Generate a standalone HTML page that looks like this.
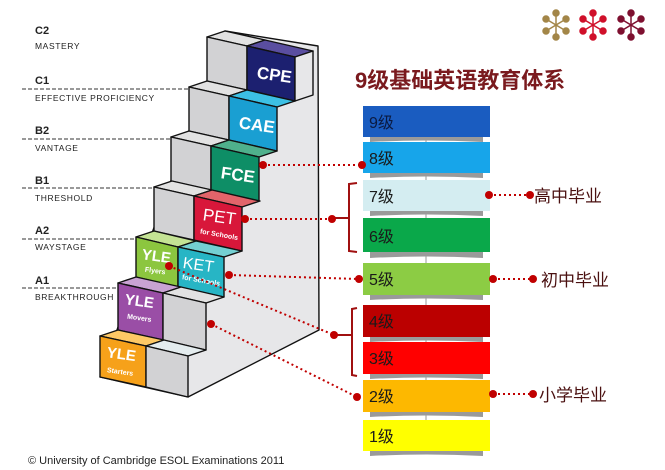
<!DOCTYPE html>
<html><head><meta charset="utf-8"><style>
html,body{margin:0;padding:0;background:#fff;}
svg{display:block}
text{font-family:"Liberation Sans","Noto Sans CJK SC",sans-serif;}
</style></head><body>
<svg width="665" height="470" viewBox="0 0 665 470" xmlns="http://www.w3.org/2000/svg">
<!-- asterisk logos -->
<g stroke-width="1.5">
<g transform="translate(556,25)" stroke="#a38648" fill="#a38648">
<line x1="-10" y1="-6" x2="10" y2="6"/><line x1="-10" y1="6" x2="10" y2="-6"/><line x1="0" y1="-12" x2="0" y2="12"/>
<circle cx="-10" cy="-6" r="3"/><circle cx="10" cy="6" r="3"/><circle cx="-10" cy="6" r="3"/><circle cx="10" cy="-6" r="3"/><circle cx="0" cy="-12" r="3"/><circle cx="0" cy="12" r="3"/></g>
<g transform="translate(593,25)" stroke="#d0102a" fill="#d0102a">
<line x1="-10" y1="-6" x2="10" y2="6"/><line x1="-10" y1="6" x2="10" y2="-6"/><line x1="0" y1="-12" x2="0" y2="12"/>
<circle cx="-10" cy="-6" r="3"/><circle cx="10" cy="6" r="3"/><circle cx="-10" cy="6" r="3"/><circle cx="10" cy="-6" r="3"/><circle cx="0" cy="-12" r="3"/><circle cx="0" cy="12" r="3"/></g>
<g transform="translate(631,25)" stroke="#7e1030" fill="#7e1030">
<line x1="-10" y1="-6" x2="10" y2="6"/><line x1="-10" y1="6" x2="10" y2="-6"/><line x1="0" y1="-12" x2="0" y2="12"/>
<circle cx="-10" cy="-6" r="3"/><circle cx="10" cy="6" r="3"/><circle cx="-10" cy="6" r="3"/><circle cx="10" cy="-6" r="3"/><circle cx="0" cy="-12" r="3"/><circle cx="0" cy="12" r="3"/></g>
</g>

<!-- left labels -->
<g fill="#222">
<text x="35" y="34" font-size="11" font-weight="bold">C2</text>
<text x="35" y="49" font-size="8.5" letter-spacing="0.6">MASTERY</text>
<text x="35" y="84" font-size="11" font-weight="bold">C1</text>
<text x="35" y="101" font-size="8.5" letter-spacing="0.6">EFFECTIVE PROFICIENCY</text>
<text x="35" y="134" font-size="11" font-weight="bold">B2</text>
<text x="35" y="151" font-size="8.5" letter-spacing="0.6">VANTAGE</text>
<text x="35" y="184" font-size="11" font-weight="bold">B1</text>
<text x="35" y="201" font-size="8.5" letter-spacing="0.6">THRESHOLD</text>
<text x="35" y="234" font-size="11" font-weight="bold">A2</text>
<text x="35" y="250" font-size="8.5" letter-spacing="0.6">WAYSTAGE</text>
<text x="35" y="284" font-size="11" font-weight="bold">A1</text>
<text x="35" y="300" font-size="8.5" letter-spacing="0.6">BREAKTHROUGH</text>
</g>
<g stroke="#333" stroke-width="1" stroke-dasharray="4,2">
<line x1="22" y1="89" x2="190" y2="89"/>
<line x1="22" y1="139" x2="172" y2="139"/>
<line x1="22" y1="188" x2="154" y2="188"/>
<line x1="22" y1="239" x2="136" y2="239"/>
<line x1="22" y1="288" x2="118" y2="288"/>
</g>

<!-- staircase body -->
<g stroke="#111" stroke-width="1.4" stroke-linejoin="round">
<path d="M225,31 L318,46 L319,330 L188,397 L100,377 Z" fill="#e7e7e9"/>
<!-- step helper: tread (L,T),(L+88,T+20),(L+106,T+14),(L+18,T-6) -->
<!-- CPE L207 T37 -->
<polygon points="207,37 247,46 265,40 225,31" fill="#e2e2e2"/>
<polygon points="247,46 295,57 313,51 265,40" fill="#5a4ea0"/>
<polygon points="207,37 247,46 247,90 207,81" fill="#d2d2d4"/>
<polygon points="247,46 295,57 295,101 247,90" fill="#1c2070"/>
<polygon points="295,57 313,51 313,95 295,101" fill="#e7e7e9"/>
<!-- CAE L189 T87 -->
<polygon points="189,87 229,96 247,90 207,81" fill="#e2e2e2"/>
<polygon points="229,96 277,107 295,101 247,90" fill="#3cc0e4"/>
<polygon points="189,87 229,96 229,140 189,131" fill="#d2d2d4"/>
<polygon points="229,96 277,107 277,151 229,140" fill="#1a9fd2"/>
<!-- FCE L171 T137 -->
<polygon points="171,137 211,146 229,140 189,131" fill="#e2e2e2"/>
<polygon points="211,146 259,157 277,151 229,140" fill="#4fb08c"/>
<polygon points="171,137 211,146 211,190 171,181" fill="#d2d2d4"/>
<polygon points="211,146 259,157 259,201 211,190" fill="#0e8e66"/>
<!-- PET L154 T187 -->
<polygon points="154,187 194,196 212,190 172,181" fill="#e2e2e2"/>
<polygon points="194,196 242,207 260,201 212,190" fill="#e2646a"/>
<polygon points="154,187 194,196 194,240 154,231" fill="#d2d2d4"/>
<polygon points="194,196 242,207 242,251 194,240" fill="#d8173a"/>
<!-- A2 L136 T237 H40 -->
<polygon points="136,237 178,247 196,241 154,231" fill="#c4e394"/>
<polygon points="178,247 224,257 242,251 196,241" fill="#74d0d2"/>
<polygon points="136,237 178,247 178,287 136,277" fill="#8cc63f"/>
<polygon points="178,247 224,257 224,297 178,287" fill="#27b5c5"/>
<!-- Movers L118 T283 H47 -->
<polygon points="118,283 163,293 181,287 136,277" fill="#c9a3d3"/>
<polygon points="163,293 206,303 224,297 181,287" fill="#e2e2e2"/>
<polygon points="118,283 163,293 163,340 118,330" fill="#9a4ea6"/>
<polygon points="163,293 206,303 206,350 163,340" fill="#d2d2d4"/>
<!-- Starters L100 T336 H41 -->
<polygon points="100,336 146,346 164,340 118,330" fill="#fdc865"/>
<polygon points="146,346 188,356 206,350 164,340" fill="#e4ecee"/>
<polygon points="100,336 146,346 146,387 100,377" fill="#f6a11a"/>
<polygon points="146,346 188,356 188,397 146,387" fill="#d2d2d4"/>
</g>

<!-- step labels -->
<g fill="#fff" font-weight="bold" font-family="Liberation Sans Narrow, Liberation Sans, sans-serif">
<text x="257" y="80" font-size="17" transform="rotate(8 270 74)">CPE</text>
<text x="239" y="130" font-size="17" transform="rotate(8 252 124)">CAE</text>
<text x="221" y="180" font-size="17" transform="rotate(8 234 174)">FCE</text>
<text x="203" y="222" font-size="17" font-weight="normal" transform="rotate(8 216 216)">PET</text>
<text x="200" y="236" font-size="7" transform="rotate(10 215 233)">for Schools</text>
<text x="142" y="261" font-size="15" transform="rotate(8 155 255)">YLE</text>
<text x="145" y="273" font-size="7" transform="rotate(8 155 270)">Flyers</text>
<text x="183" y="270" font-size="16" font-weight="normal" transform="rotate(8 198 264)">KET</text>
<text x="182" y="282" font-size="7" transform="rotate(10 198 279)">for Schools</text>
<text x="125" y="306" font-size="15" transform="rotate(8 138 300)">YLE</text>
<text x="127" y="320" font-size="7" transform="rotate(8 138 318)">Movers</text>
<text x="107" y="359" font-size="15" transform="rotate(8 120 353)">YLE</text>
<text x="107" y="374" font-size="7" transform="rotate(8 120 371)">Starters</text>
</g>

<!-- title -->
<text x="355" y="88" font-size="22" font-weight="bold" fill="#7a1a1e">9级基础英语教育体系</text>

<!-- bars -->
<g>
<line x1="426" y1="106" x2="426" y2="452" stroke="#999" stroke-width="1"/>
<g fill="#9a9a9a">
<path d="M370,137 Q426,134 483,137 L483,142 Q426,139 370,142Z"/>
<path d="M370,173 Q426,170 483,173 L483,178 Q426,175 370,178Z"/>
<path d="M370,211 Q426,208 483,211 L483,216 Q426,213 370,216Z"/>
<path d="M370,252 Q426,249 483,252 L483,258 Q426,255 370,258Z"/>
<path d="M370,295 Q426,292 483,295 L483,300 Q426,297 370,300Z"/>
<path d="M370,337 Q426,334 483,337 L483,342 Q426,339 370,342Z"/>
<path d="M370,374 Q426,371 483,374 L483,379 Q426,376 370,379Z"/>
<path d="M370,412 Q426,409 483,412 L483,417 Q426,414 370,417Z"/>
<path d="M370,451 Q426,448 483,451 L483,456 Q426,453 370,456Z"/>
</g>
<rect x="363" y="106" width="127" height="31" fill="#1a5cc0"/>
<rect x="363" y="142" width="127" height="31" fill="#17a5ea"/>
<rect x="363" y="180" width="127" height="31" fill="#d4edf1"/>
<rect x="363" y="218" width="127" height="34" fill="#0aa84a"/>
<rect x="363" y="263" width="127" height="32" fill="#8ccc44"/>
<rect x="363" y="305" width="127" height="32" fill="#bb0000"/>
<rect x="363" y="342" width="127" height="32" fill="#ff0000"/>
<rect x="363" y="380" width="127" height="32" fill="#fdb800"/>
<rect x="363" y="420" width="127" height="31" fill="#ffff00"/>
<g font-size="16" fill="#1a1a1a">
<text x="369" y="128" fill="#0b1a40">9级</text>
<text x="369" y="164">8级</text>
<text x="369" y="202">7级</text>
<text x="369" y="242">6级</text>
<text x="369" y="285">5级</text>
<text x="369" y="327">4级</text>
<text x="369" y="364">3级</text>
<text x="369" y="402">2级</text>
<text x="369" y="442">1级</text>
</g>
</g>

<!-- brackets -->
<g stroke="#a01010" stroke-width="2" fill="none">
<path d="M357,183 L349,184 L349,251 L357,252"/>
<path d="M333,218 L349,218"/>
<path d="M357,308 L352,309 L352,375 L357,376"/>
<path d="M336,335 L352,335"/>
</g>

<!-- connectors -->
<g stroke="#c00000" stroke-width="2" stroke-dasharray="2,3" fill="none">
<line x1="263" y1="165" x2="362" y2="165"/>
<line x1="245" y1="219" x2="332" y2="219"/>
<line x1="229" y1="275" x2="359" y2="279"/>
<line x1="169" y1="266" x2="334" y2="335"/>
<line x1="211" y1="324" x2="357" y2="397"/>
<line x1="489" y1="195" x2="530" y2="195"/>
<line x1="493" y1="279" x2="533" y2="279"/>
<line x1="493" y1="394" x2="533" y2="394"/>
</g>
<g fill="#c00000">
<circle cx="263" cy="165" r="4"/><circle cx="362" cy="165" r="4"/>
<circle cx="245" cy="219" r="4"/><circle cx="332" cy="219" r="4"/>
<circle cx="229" cy="275" r="4"/><circle cx="359" cy="279" r="4"/>
<circle cx="169" cy="266" r="4"/><circle cx="334" cy="335" r="4"/>
<circle cx="211" cy="324" r="4"/><circle cx="357" cy="397" r="4"/>
<circle cx="489" cy="195" r="4"/><circle cx="530" cy="195" r="4"/>
<circle cx="493" cy="279" r="4"/><circle cx="533" cy="279" r="4"/>
<circle cx="493" cy="394" r="4"/><circle cx="533" cy="394" r="4"/>
</g>
<g font-size="17" fill="#4a1010">
<text x="534" y="202">高中毕业</text>
<text x="541" y="286">初中毕业</text>
<text x="539" y="401">小学毕业</text>
</g>

<text x="28" y="464" font-size="11" fill="#222">© University of Cambridge ESOL Examinations 2011</text>
</svg>
</body></html>
